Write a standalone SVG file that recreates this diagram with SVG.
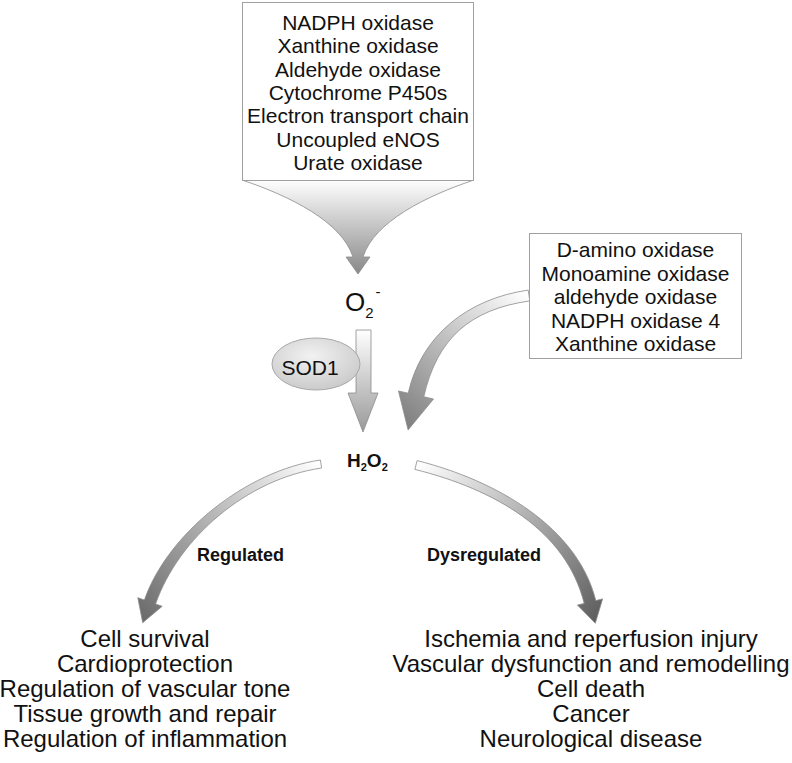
<svg xmlns="http://www.w3.org/2000/svg" width="792" height="763" viewBox="0 0 792 763">
<defs>
<style>
text{font-family:"Liberation Sans",Arial,sans-serif;fill:#111}
.box{fill:#fff;stroke:#a0a0a0;stroke-width:1}
.t21{font-size:21px;text-anchor:middle}
.t24{font-size:24px;text-anchor:middle}
.b{font-weight:bold;font-size:18px}
.arr{stroke:#8c8c8c;stroke-width:0.8}
</style>
<linearGradient id="gFunnel" x1="0" y1="180" x2="0" y2="274" gradientUnits="userSpaceOnUse">
<stop offset="0" stop-color="#ffffff"/><stop offset="1" stop-color="#888888"/>
</linearGradient>
<linearGradient id="gDown" x1="0" y1="330" x2="0" y2="432" gradientUnits="userSpaceOnUse">
<stop offset="0" stop-color="#ffffff"/><stop offset="1" stop-color="#999999"/>
</linearGradient>
<linearGradient id="gRight" x1="529" y1="295" x2="410" y2="428" gradientUnits="userSpaceOnUse">
<stop offset="0" stop-color="#ffffff"/><stop offset="1" stop-color="#808080"/>
</linearGradient>
<linearGradient id="gLeft" x1="321" y1="464" x2="143" y2="622" gradientUnits="userSpaceOnUse">
<stop offset="0" stop-color="#ffffff"/><stop offset="1" stop-color="#6a6a6a"/>
</linearGradient>
<linearGradient id="gDys" x1="416" y1="465" x2="595" y2="623" gradientUnits="userSpaceOnUse">
<stop offset="0" stop-color="#ffffff"/><stop offset="1" stop-color="#5e5e5e"/>
</linearGradient>
<radialGradient id="gSod" cx="0.45" cy="0.35" r="0.7">
<stop offset="0" stop-color="#f2f2f2"/><stop offset="1" stop-color="#c8c8c8"/>
</radialGradient>
</defs>

<g id="connectors">
<path class="arr" fill="url(#gFunnel)" d="M242,180 C290,196 342,222 353,257 L346,257 L358,274 L370,257 L363,257 C374,222 426,196 474,180 Z"/>
<path class="arr" fill="url(#gDown)" d="M356,330 L371,330 L371,393 L378,393 L363,432 L348,393 L356,393 Z"/>
<path class="arr" fill="url(#gRight)" d="M528.2,290.1 C468.2,298.6 421.4,335 408.2,393.2 L398.5,391 L408.1,429.9 L433.5,399 L423.8,396.8 C437,338.6 469.8,309.4 529.8,300.9 Z"/>
<path class="arr" fill="url(#gLeft)" d="M320.4,460 C245.4,471 167.4,534 144.4,600 L137.8,597.7 L142.7,622.7 L162.2,606.3 L155.6,604 C178.6,538 246.6,479 321.6,468 Z"/>
<path class="arr" fill="url(#gDys)" d="M417.1,460.6 C497.1,480.6 577.8,527.6 595.8,600.6 L602.6,598.9 L595.3,623.3 L577.4,605.1 L584.2,603.4 C566.2,530.4 494.9,489.4 414.9,469.4 Z"/>
<text class="b" x="197" y="561">Regulated</text>
<text class="b" x="427" y="561">Dysregulated</text>
</g>

<g id="sources-top">
<rect class="box" x="242.5" y="2.5" width="231" height="178"/>
<text class="t21" x="358" y="30">NADPH oxidase</text>
<text class="t21" x="358" y="53.3">Xanthine oxidase</text>
<text class="t21" x="358" y="76.6">Aldehyde oxidase</text>
<text class="t21" x="358" y="99.9">Cytochrome P450s</text>
<text class="t21" x="358" y="123.2">Electron transport chain</text>
<text class="t21" x="358" y="146.5">Uncoupled eNOS</text>
<text class="t21" x="358" y="169.8">Urate oxidase</text>
</g>

<g id="sources-right">
<rect class="box" x="529.5" y="233.5" width="212" height="125"/>
<text class="t21" x="635.5" y="257">D-amino oxidase</text>
<text class="t21" x="635.5" y="280.5">Monoamine oxidase</text>
<text class="t21" x="635.5" y="304">aldehyde oxidase</text>
<text class="t21" x="635.5" y="327.5">NADPH oxidase 4</text>
<text class="t21" x="635.5" y="351">Xanthine oxidase</text>
</g>

<g id="superoxide">
<text x="345" y="311" font-size="26">O<tspan font-size="15" dy="7">2</tspan><tspan font-size="15" dx="2" dy="-21">-</tspan></text>
</g>

<g id="sod1">
<ellipse cx="316" cy="364" rx="44" ry="26" fill="url(#gSod)" stroke="#a8a8a8" stroke-width="1"/>
<text x="310" y="375" font-size="21" text-anchor="middle">SOD1</text>
</g>

<g id="h2o2">
<text x="347" y="467" style="font-weight:bold;font-size:19px">H<tspan style="font-size:11px" dy="4">2</tspan><tspan dy="-4">O</tspan><tspan style="font-size:11px" dy="4">2</tspan></text>
</g>

<g id="regulated-outcomes">
<text class="t24" x="145" y="647">Cell survival</text>
<text class="t24" x="145" y="672">Cardioprotection</text>
<text class="t24" x="145" y="697">Regulation of vascular tone</text>
<text class="t24" x="145" y="722">Tissue growth and repair</text>
<text class="t24" x="145" y="747">Regulation of inflammation</text>
</g>

<g id="dysregulated-outcomes">
<text class="t24" x="591" y="647">Ischemia and reperfusion injury</text>
<text class="t24" x="591" y="672">Vascular dysfunction and remodelling</text>
<text class="t24" x="591" y="697">Cell death</text>
<text class="t24" x="591" y="722">Cancer</text>
<text class="t24" x="591" y="747">Neurological disease</text>
</g>
</svg>
